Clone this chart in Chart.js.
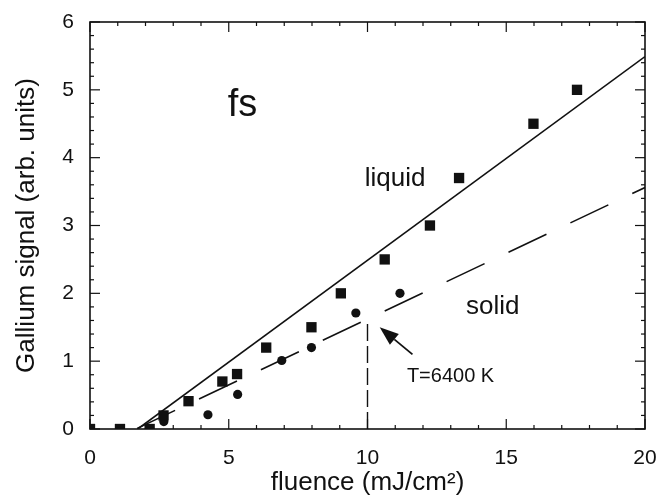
<!DOCTYPE html>
<html>
<head>
<meta charset="utf-8">
<script src="https://cdn.jsdelivr.net/npm/chart.js@4.4.0/dist/chart.umd.min.js"></script>
<style>
  html,body{margin:0;padding:0;background:#fff}
  #wrap{width:659px;height:495px;position:relative}
</style>
</head>
<body>
<div id="wrap"><canvas id="chart"></canvas></div>
<script>
/* ── data ── */
const liquidX = [0, 1.08, 2.15, 2.65, 3.55, 4.77, 5.3, 6.35, 7.98, 9.04, 10.62, 12.25, 13.3, 15.98, 17.55];
const liquidY = [0, 0, 0, 0.2, 0.41, 0.7, 0.81, 1.2, 1.5, 2.0, 2.5, 3.0, 3.7, 4.5, 5.0];
const solidX  = [2.66, 4.25, 5.32, 6.91, 7.98, 9.58, 11.17];
const solidY  = [0.11, 0.21, 0.51, 1.01, 1.2, 1.71, 2.0];

const liquidFitX = [1.72, 20];
const liquidFitY = [0, 5.49];
const solidFitX  = [1.65, 20];
const solidFitY  = [0, 3.56];
const markX = [10, 10];
const markY = [0, 1.55];

const xTicks = [0, 5, 10, 15, 20];
const yTicks = [0, 1, 2, 3, 4, 5, 6];

/* text notes, anchored in data units (left, baseline) */
const notes = [
  { text:'fs',       x:4.96,  y:4.61, size:38 },
  { text:'liquid',   x:9.9,   y:3.58, size:26 },
  { text:'solid',    x:13.55, y:1.69, size:26 },
  { text:'T=6400 K', x:11.42, y:0.70, size:20 }
];
const arrowFrom = [11.62, 1.10];
const arrowTo   = [10.44, 1.50];

const INK = '#111';
const pts = (xs, ys) => xs.map((v,i)=>({x:v, y:ys[i]}));

Chart.defaults.font.family = "'Liberation Sans', Arial, Helvetica, sans-serif";
Chart.defaults.color = INK;

/* ── frame, inward ticks, arrow and labels ── */
const framePlugin = {
  id:'frame',
  afterDraw(chart){
    const {ctx, chartArea:a, scales:{x, y}} = chart;
    const seg = (x1,y1,x2,y2)=>{ ctx.beginPath(); ctx.moveTo(x1,y1); ctx.lineTo(x2,y2); ctx.stroke(); };
    ctx.save();
    ctx.strokeStyle = INK;
    ctx.lineWidth = 1.2;
    for (let v = x.min; v <= x.max; v++) {
      const px = x.getPixelForValue(v), l = v % 5 === 0 ? 10 : 4;
      seg(px, a.bottom, px, a.bottom - l);
      seg(px, a.top, px, a.top + l);
    }
    for (let i = 0; i <= y.max * 5; i++) {
      const py = y.getPixelForValue(i / 5), l = i % 5 === 0 ? 10 : 4;
      seg(a.left, py, a.left + l, py);
      seg(a.right, py, a.right - l, py);
    }
    ctx.lineWidth = 1.6;
    ctx.strokeRect(a.left, a.top, a.right - a.left, a.bottom - a.top);

    /* arrow */
    const x0 = x.getPixelForValue(arrowFrom[0]), y0 = y.getPixelForValue(arrowFrom[1]);
    const x1 = x.getPixelForValue(arrowTo[0]),   y1 = y.getPixelForValue(arrowTo[1]);
    const ang = Math.atan2(y1 - y0, x1 - x0), hl = 19, hw = 7;
    const bx = x1 - hl * Math.cos(ang), by = y1 - hl * Math.sin(ang);
    ctx.lineWidth = 1.8;
    seg(x0, y0, bx, by);
    ctx.fillStyle = INK;
    ctx.beginPath();
    ctx.moveTo(x1, y1);
    ctx.lineTo(bx + hw * Math.sin(ang), by - hw * Math.cos(ang));
    ctx.lineTo(bx - hw * Math.sin(ang), by + hw * Math.cos(ang));
    ctx.closePath();
    ctx.fill();

    /* notes */
    ctx.textAlign = 'left';
    ctx.textBaseline = 'alphabetic';
    notes.forEach(n=>{
      ctx.font = `${n.size}px ${Chart.defaults.font.family}`;
      ctx.fillText(n.text, x.getPixelForValue(n.x), y.getPixelForValue(n.y));
    });
    ctx.restore();
  }
};

new Chart(document.getElementById('chart'), {
  type:'scatter',
  data:{ datasets:[
    { data:pts(liquidX, liquidY), pointStyle:'rect', pointRadius:7.3, backgroundColor:INK, borderWidth:0 },
    { data:pts(solidX, solidY), pointStyle:'circle', pointRadius:4.6, backgroundColor:INK, borderWidth:0 },
    { data:pts(liquidFitX, liquidFitY), showLine:true, pointRadius:0, borderColor:INK, borderWidth:1.6 },
    { data:pts(solidFitX, solidFitY), showLine:true, pointRadius:0, borderColor:INK, borderWidth:1.6, borderDash:[42,26.5], borderDashOffset:-1.5 },
    { data:pts(markX, markY), showLine:true, pointRadius:0, borderColor:INK, borderWidth:1.4, borderDash:[17,5] }
  ]},
  options:{
    responsive:true, maintainAspectRatio:false, animation:false, events:[],
    layout:{ padding:{ left:0, top:22, right:14, bottom:0 } },
    plugins:{ legend:{ display:false }, tooltip:{ enabled:false } },
    scales:{
      x:{ type:'linear', min:0, max:20,
          afterFit:s=>{ s.height = 66; },
          afterBuildTicks:s=>{ s.ticks = xTicks.map(v=>({value:v})); },
          ticks:{ font:{size:21}, color:INK, padding:0, maxRotation:0 },
          grid:{ display:false, drawTicks:true, tickLength:17 }, border:{ display:false },
          title:{ display:true, text:'fluence (mJ/cm²)', color:INK, font:{size:26, lineHeight:0.92}, padding:0 } },
      y:{ type:'linear', min:0, max:6,
          afterFit:s=>{ s.width = 90; },
          afterBuildTicks:s=>{ s.ticks = yTicks.map(v=>({value:v})); },
          ticks:{ font:{size:21}, color:INK, padding:0 },
          grid:{ display:false, drawTicks:true, tickLength:16 }, border:{ display:false },
          title:{ display:true, text:'Gallium signal (arb. units)', color:INK, font:{size:26}, padding:{top:11, bottom:0} } }
    }
  },
  plugins:[framePlugin]
});
</script>
</body>
</html>
